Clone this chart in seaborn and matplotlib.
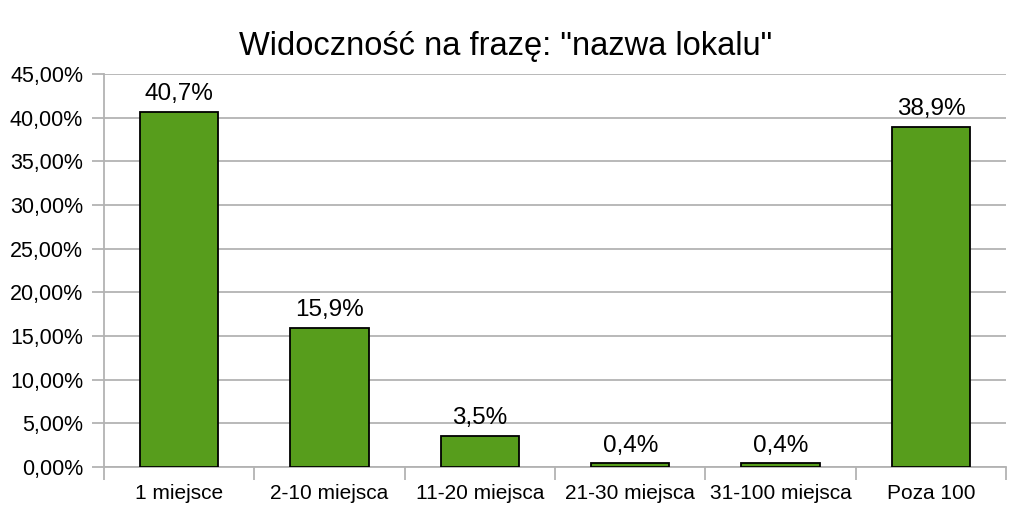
import numpy as np
import pandas as pd
import seaborn as sns
import matplotlib.pyplot as plt
from matplotlib.ticker import FuncFormatter, FixedLocator

# Dane -------------------------------------------------------------------------
kategorie = ["1 miejsce", "2-10 miejsca", "11-20 miejsca", "21-30 miejsca",
             "31-100 miejsca", "Poza 100"]
wartosci = [40.7, 15.9, 3.5, 0.4, 0.4, 38.9]
etykiety = ["40,7%", "15,9%", "3,5%", "0,4%", "0,4%", "38,9%"]

df = pd.DataFrame({"Pozycja": kategorie, "Udzial": wartosci})

# Wykres -----------------------------------------------------------------------
sns.set_style("white")
plt.rcParams["font.family"] = ["Liberation Sans", "DejaVu Sans"]

fig = plt.figure(figsize=(10.11, 5.13), dpi=100)
ax = fig.add_axes([0.1029, 0.0897, 0.8922, 0.7661])

sns.barplot(data=df, x="Pozycja", y="Udzial", color="#579d1c", width=0.52,
            edgecolor="black", linewidth=1.3, saturation=1, ax=ax, zorder=3)

ax.set_xlim(-0.5, len(kategorie) - 0.5)
ax.set_ylim(0, 45)
ax.set_yticks(np.arange(0, 46, 5))
ax.yaxis.set_major_formatter(FuncFormatter(lambda v, p: f"{v:.2f}%".replace(".", ",")))
ax.grid(axis="y", color="#b3b3b3", linewidth=1.3, zorder=0)

# podpisy nad słupkami
for i, (v, t) in enumerate(zip(wartosci, etykiety)):
    ax.annotate(t, (i, v), xytext=(0, 5), textcoords="offset points",
                ha="center", va="bottom", fontsize=17.5, color="black")

# znaczniki osi X między kategoriami
ax.xaxis.set_minor_locator(FixedLocator(np.arange(-0.5, len(kategorie), 1)))
ax.tick_params(axis="x", which="major", bottom=True, length=0, labelsize=15, pad=12,
               colors="black")
ax.tick_params(axis="x", which="minor", bottom=True, length=9, width=1.3,
               color="#b3b3b3", direction="out")
ax.tick_params(axis="y", left=True, length=9, width=1.3, color="#b3b3b3", labelsize=15.5,
               pad=6, labelcolor="black", direction="out")
ax.set_xlabel("")
ax.set_ylabel("")

for s in ["top", "right"]:
    ax.spines[s].set_visible(False)
for s in ["left", "bottom"]:
    ax.spines[s].set_color("#b3b3b3")
    ax.spines[s].set_linewidth(1.3)

fig.suptitle('Widoczność na frazę: "nazwa lokalu"', fontsize=23.5, y=0.94, color="black")

plt.savefig("out.png", dpi=100)
